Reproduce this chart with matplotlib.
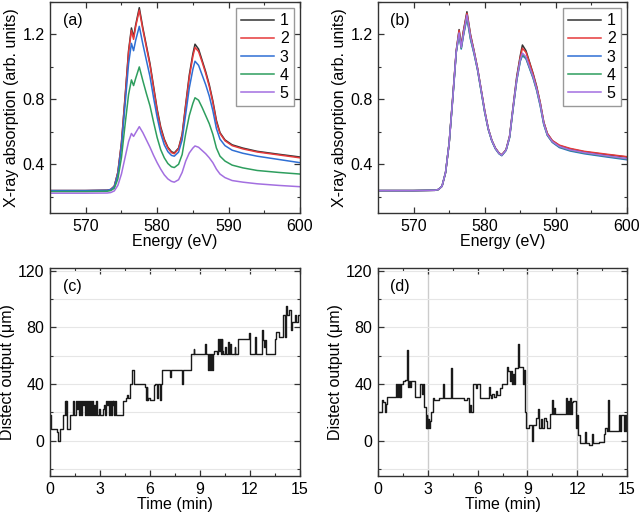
import matplotlib
matplotlib.use("Agg")
import matplotlib.pyplot as plt
from matplotlib.ticker import MultipleLocator

plt.rcParams['font.family'] = ['Liberation Sans', 'DejaVu Sans']

# ---------------- data: XAS spectra ----------------
energy = [565, 570, 573, 573.5, 574, 574.5, 575, 575.5, 576, 576.4, 576.7, 577.0, 577.5,
          578.0, 578.5, 579.0, 579.5, 580.0, 580.5, 581.0, 581.5, 582.0, 582.4, 583.0,
          583.5, 584.0, 584.5, 585.0, 585.3, 585.8, 586.3, 586.8, 587.3, 587.8, 588.3,
          588.8, 589.5, 590.5, 592, 594, 597, 600]

a1 = [0.238, 0.238, 0.240, 0.245, 0.265, 0.35, 0.53, 0.81, 1.10, 1.24, 1.185, 1.26, 1.365,
      1.24, 1.13, 1.02, 0.88, 0.74, 0.63, 0.555, 0.505, 0.478, 0.47, 0.50, 0.585, 0.77,
      0.95, 1.08, 1.14, 1.11, 1.04, 0.97, 0.89, 0.79, 0.67, 0.595, 0.55, 0.52, 0.50, 0.48,
      0.462, 0.445]
a2 = [0.238, 0.238, 0.240, 0.245, 0.265, 0.35, 0.53, 0.80, 1.09, 1.225, 1.17, 1.25, 1.35,
      1.23, 1.12, 1.01, 0.87, 0.73, 0.62, 0.548, 0.50, 0.472, 0.465, 0.495, 0.578, 0.76,
      0.935, 1.065, 1.12, 1.095, 1.03, 0.96, 0.88, 0.78, 0.66, 0.59, 0.545, 0.515, 0.495,
      0.476, 0.458, 0.44]
a3 = [0.238, 0.238, 0.240, 0.244, 0.262, 0.34, 0.51, 0.76, 1.02, 1.145, 1.10, 1.165, 1.25,
      1.14, 1.04, 0.94, 0.81, 0.69, 0.59, 0.52, 0.478, 0.455, 0.45, 0.475, 0.55, 0.71,
      0.87, 0.985, 1.035, 1.01, 0.95, 0.89, 0.82, 0.73, 0.62, 0.555, 0.515, 0.487, 0.468,
      0.45, 0.43, 0.41]
a4 = [0.232, 0.232, 0.234, 0.238, 0.252, 0.31, 0.44, 0.64, 0.83, 0.92, 0.885, 0.93, 1.00,
      0.915, 0.835, 0.76, 0.66, 0.565, 0.49, 0.44, 0.405, 0.385, 0.38, 0.40, 0.46, 0.59,
      0.70, 0.775, 0.81, 0.795, 0.75, 0.70, 0.65, 0.585, 0.50, 0.45, 0.42, 0.395, 0.378,
      0.362, 0.35, 0.34]
a5 = [0.222, 0.222, 0.223, 0.226, 0.236, 0.27, 0.34, 0.44, 0.54, 0.59, 0.572, 0.595, 0.632,
      0.595, 0.55, 0.505, 0.455, 0.41, 0.37, 0.335, 0.31, 0.295, 0.29, 0.305, 0.35, 0.42,
      0.47, 0.50, 0.513, 0.505, 0.485, 0.465, 0.44, 0.41, 0.37, 0.34, 0.318, 0.30, 0.29,
      0.28, 0.27, 0.262]

b1 = [0.238, 0.238, 0.240, 0.245, 0.265, 0.35, 0.53, 0.81, 1.10, 1.23, 1.13, 1.22, 1.34,
      1.20, 1.10, 0.99, 0.86, 0.73, 0.62, 0.548, 0.50, 0.47, 0.458, 0.49, 0.575, 0.76,
      0.94, 1.07, 1.135, 1.10, 1.03, 0.96, 0.88, 0.78, 0.66, 0.59, 0.545, 0.515, 0.495,
      0.477, 0.46, 0.445]
b2 = [0.238, 0.238, 0.240, 0.245, 0.265, 0.35, 0.53, 0.81, 1.10, 1.225, 1.125, 1.215, 1.33,
      1.195, 1.095, 0.99, 0.86, 0.73, 0.62, 0.548, 0.50, 0.47, 0.458, 0.49, 0.572, 0.755,
      0.93, 1.06, 1.115, 1.09, 1.025, 0.955, 0.875, 0.78, 0.66, 0.59, 0.547, 0.518, 0.498,
      0.48, 0.463, 0.447]
b3 = [0.238, 0.238, 0.240, 0.245, 0.265, 0.35, 0.53, 0.80, 1.09, 1.20, 1.11, 1.19, 1.30,
      1.17, 1.08, 0.98, 0.85, 0.72, 0.615, 0.543, 0.495, 0.465, 0.453, 0.485, 0.565, 0.745,
      0.915, 1.035, 1.07, 1.05, 0.99, 0.93, 0.855, 0.76, 0.645, 0.578, 0.535, 0.503, 0.482,
      0.465, 0.446, 0.428]
b4 = [0.238, 0.238, 0.240, 0.245, 0.265, 0.35, 0.53, 0.80, 1.09, 1.205, 1.115, 1.195, 1.31,
      1.175, 1.085, 0.98, 0.85, 0.72, 0.615, 0.545, 0.497, 0.467, 0.455, 0.487, 0.567, 0.748,
      0.918, 1.04, 1.075, 1.055, 0.995, 0.935, 0.86, 0.765, 0.648, 0.58, 0.538, 0.507, 0.486,
      0.469, 0.45, 0.432]
b5 = [0.238, 0.238, 0.240, 0.245, 0.265, 0.35, 0.53, 0.80, 1.095, 1.21, 1.12, 1.20, 1.32,
      1.185, 1.09, 0.985, 0.855, 0.725, 0.618, 0.546, 0.498, 0.468, 0.456, 0.488, 0.57, 0.752,
      0.922, 1.045, 1.085, 1.062, 1.0, 0.94, 0.865, 0.77, 0.652, 0.583, 0.54, 0.51, 0.489,
      0.472, 0.453, 0.435]

series_labels = ['1', '2', '3', '4', '5']
series_colors = ['#333333', '#e5393b', '#2f6fd4', '#2e9e5e', '#a36fe0']

# ---------------- data: displacement output vs time (change points) ----------------
c_time = [0.00, 0.05, 0.40, 0.48, 0.58, 0.75, 0.80, 0.88, 0.95, 0.98, 1.02, 1.20,
          1.38, 1.42, 1.55, 1.60, 1.66, 1.74, 1.80, 1.88, 1.93, 2.00, 2.04, 2.10, 2.16,
          2.22, 2.28, 2.34, 2.40, 2.44, 2.52, 2.56, 2.66, 2.70, 2.78, 2.82, 2.96, 3.02,
          3.20, 3.26, 3.30, 3.36, 3.40, 3.46, 3.52, 3.58, 3.64, 3.70, 3.76, 3.80, 3.86,
          3.92, 3.98, 4.36, 4.56, 4.64, 4.70, 4.80, 4.94, 5.02, 5.70, 5.76, 5.80, 5.84,
          5.88, 6.00, 6.22, 6.30, 6.40, 6.46, 6.58, 6.66, 6.72, 7.20, 7.28, 7.94, 7.98,
          8.46, 8.62, 8.66, 9.30, 9.34, 9.50, 9.56, 9.60, 9.66, 9.70, 9.76, 9.86, 10.02,
          10.10, 10.14, 10.20, 10.24, 10.30, 10.34, 10.40, 10.50, 10.54, 10.66, 10.72,
          10.80, 10.84, 11.08, 11.12, 11.30, 11.96, 12.02, 12.28, 12.34, 12.70, 12.76,
          12.84, 12.88, 12.96, 13.48, 13.58, 13.76, 14.00, 14.08, 14.16, 14.24, 14.36,
          14.44, 14.54, 14.70, 14.78, 14.88, 15.00]
c_value = [18, 8, 6, 0, 8, 12, 18, 28, 18, 28, 8, 18,
           28, 18, 28, 22, 28, 18, 28, 18, 28, 25, 28, 18, 28,
           18, 28, 18, 28, 18, 28, 18, 25, 18, 28, 18, 22, 18,
           22, 25, 18, 28, 25, 28, 18, 28, 18, 28, 25, 28, 18,
           28, 18, 28, 30, 32, 30, 40, 50, 40, 38, 29, 38, 29,
           30, 29, 39, 40, 30, 40, 29, 40, 50, 45, 50, 40, 50,
           61, 65, 61, 68, 61, 50, 61, 50, 61, 50, 61, 63, 61,
           72, 63, 72, 61, 72, 63, 61, 66, 61, 70, 61,
           68, 61, 66, 61, 72, 76, 61, 73, 61, 78, 71,
           66, 71, 61, 72, 77, 73, 89, 73, 95, 89, 92,
           78, 84, 89, 84, 89, 89]

d_time = [0.00, 0.22, 0.30, 0.40, 0.48, 0.55, 1.10, 1.14, 1.20, 1.24, 1.30, 1.34, 1.38,
          1.50, 1.60, 1.74, 1.78, 1.86, 1.92, 1.96, 2.20, 2.50, 2.66, 2.70, 2.80, 2.88,
          2.94, 2.98, 3.02, 3.08, 3.14, 3.20, 3.32, 3.40, 3.70, 3.94, 3.98, 4.40, 4.46,
          5.20, 5.34, 5.50, 5.56, 5.60, 5.74, 5.90, 5.96, 6.16, 6.66, 6.72, 6.80, 6.86,
          7.00, 7.10, 7.16, 7.36, 7.46, 7.76, 7.86, 7.94, 8.00, 8.06, 8.12, 8.18, 8.28,
          8.46, 8.52, 8.76, 8.80, 8.86, 8.92, 9.10, 9.26, 9.34, 9.54, 9.64, 9.70, 9.80,
          9.88, 9.98, 10.10, 10.16, 10.36, 10.46, 10.52, 10.62, 10.68, 11.32, 11.38,
          11.42, 11.50, 11.56, 11.60, 11.66, 11.76, 11.92, 11.98, 12.04, 12.18, 12.48,
          12.54, 12.70, 12.90, 12.96, 13.30, 13.60, 13.68, 13.78, 13.88, 13.94, 14.50,
          14.60, 14.66, 14.80, 14.86, 14.94, 15.00]
d_value = [20, 29, 27, 20, 26, 31, 40, 31, 40, 31, 40, 31, 40,
           42, 43, 64, 38, 42, 38, 42, 31, 40, 33, 40, 24, 9,
           18, 9, 15, 9, 14, 20, 30, 29, 30, 40, 30, 51, 30,
           29, 30, 20, 25, 20, 40, 37, 40, 30, 38, 32, 30, 33,
           31, 35, 32, 37, 40, 52, 49, 42, 49, 40, 47, 40, 51,
           68, 52, 40, 50, 20, 9, 11, 0, 11, 16, 22, 9, 15,
           9, 16, 14, 9, 19, 29, 19, 23, 19, 30, 19,
           28, 19, 30, 19, 27, 28, 9, 18, 4, -2, 6,
           -2, -3, 5, -2, -1, 5, 9, 7, 29, 7, 18,
           7, 18, 7, 18, 7, 7]

d_vlines = [3, 9, 12]

# ---------------- figure ----------------
W, H = 640, 515
fig = plt.figure(figsize=(W / 100, H / 100), dpi=100)

def px_axes(left, top, right, bottom):
    return fig.add_axes([left / W, 1 - bottom / H, (right - left) / W, (bottom - top) / H])

ax_a = px_axes(50, 2, 300, 213)
ax_b = px_axes(378, 2, 627, 213)
ax_c = px_axes(50, 268, 300, 476)
ax_d = px_axes(378, 268, 627, 476)

FS = 11.5
TFS = 11.5

def style(ax):
    for s in ax.spines.values():
        s.set_color('#333333')
        s.set_linewidth(1.0)
    ax.tick_params(which='both', direction='in', top=True, right=True,
                   colors='#333333', labelcolor='black', labelsize=TFS)
    ax.tick_params(which='major', length=4, width=0.9, pad=4)
    ax.tick_params(which='minor', length=2.5, width=0.8)

for ax, data, lab in [(ax_a, [a1, a2, a3, a4, a5], '(a)'), (ax_b, [b1, b2, b3, b4, b5], '(b)')]:
    for vals, name, col in zip(data, series_labels, series_colors):
        ax.plot(energy, vals, color=col, lw=1.1, label=name)
    ax.set_xlim(565, 600)
    ax.set_ylim(0.1, 1.4)
    ax.xaxis.set_major_locator(MultipleLocator(10))
    ax.xaxis.set_minor_locator(MultipleLocator(5))
    ax.yaxis.set_major_locator(MultipleLocator(0.4))
    ax.yaxis.set_minor_locator(MultipleLocator(0.2))
    ax.set_xlabel('Energy (eV)', fontsize=FS, labelpad=0)
    ax.set_ylabel('X-ray absorption (arb. units)', fontsize=FS, labelpad=2)
    style(ax)
    ax.text(0.05, 0.91, lab, transform=ax.transAxes, fontsize=FS, va='center', ha='left')
    leg = ax.legend(loc='upper right', fontsize=FS, handlelength=2.1, labelspacing=0.2,
                    borderaxespad=0.4, fancybox=False, edgecolor='#999999',
                    handletextpad=0.35, borderpad=0.3, framealpha=1)
    leg.get_frame().set_linewidth(1.0)

for ax, t, v, lab in [(ax_c, c_time, c_value, '(c)'), (ax_d, d_time, d_value, '(d)')]:
    ax.set_xlim(0, 15)
    ax.set_ylim(-25, 122)
    ax.xaxis.set_major_locator(MultipleLocator(3))
    ax.xaxis.set_minor_locator(MultipleLocator(1.5))
    ax.yaxis.set_major_locator(MultipleLocator(40))
    ax.yaxis.set_minor_locator(MultipleLocator(20))
    ax.grid(True, axis='y', which='both', color='#e6e6e6', lw=0.8)
    ax.set_axisbelow(True)
    ax.step(t, v, where='post', color='#1a1a1a', lw=1.0)
    ax.set_xlabel('Time (min)', fontsize=FS, labelpad=0)
    ax.set_ylabel('Distect output (\u03bcm)', fontsize=FS, labelpad=2)
    style(ax)
    ax.text(0.05, 0.91, lab, transform=ax.transAxes, fontsize=FS, va='center', ha='left')

for xv in d_vlines:
    ax_d.axvline(xv, color='#cccccc', lw=1.0, zorder=0.5)

fig.savefig('out.png', dpi=100)
